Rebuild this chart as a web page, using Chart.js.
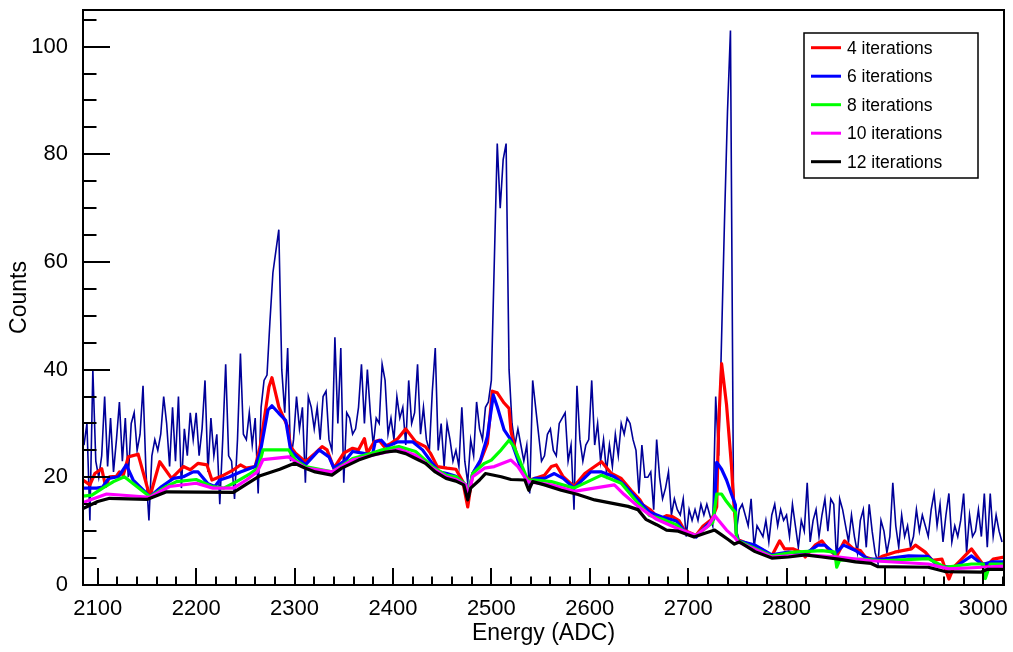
<!DOCTYPE html>
<html><head><meta charset="utf-8">
<script src="https://cdn.jsdelivr.net/npm/chart.js@4/dist/chart.umd.min.js"></script>
<style>html,body{margin:0;padding:0;background:#fff}canvas{display:block}</style>
</head><body>
<canvas id="c" width="1013" height="652"></canvas>
<script>
// ---- data ----
const binStart = 2086, binWidth = 3; // histogram bin centres (ADC)
const spectrumCounts = [
 26,30,12,40,23,20,24,35,22,31,
 21,27,34,23,31,20,30,32,25,28,
 37,21,12,24,27,25,28,35,30,22,
 33,23,35,18,29,24,32,27,32,24,
 29,38,21,31,24,28,15,27,41,24,
 23,16,27,43,28,27,32,26,31,17,
 33,38,39,49,58,62,66,40,32,44,
 23,27,35,29,33,19,35,33,29,33,
 27,35,36,27,25,46,30,44,19,32,
 31,28,29,33,41,30,40,32,26,31,
 30,41,38,28,31,27,35,31,33,26,
 38,30,32,41,28,33,27,25,36,44,
 25,30,22,30,27,23,25,22,33,23,
 19,27,24,34,29,27,33,34,38,60,
 82,70,79,82,40,30,26,29,26,23,
 26,17,38,33,28,23,24,28,29,25,
 24,30,31,32,23,26,14,37,27,23,
 26,27,38,26,30,23,27,21,26,22,
 28,24,30,28,31,30,27,25,17,26,
 20,20,21,14,27,20,16,18,21,13,
 16,14,13,16,9,14,12,14,12,15,
 13,15,13,11,35,24,46,68,88,103,
 18,10,14,15,13,11,16,7,11,10,
 9,12,8,13,15,11,14,12,13,9,
 15,11,7,12,10,19,8,12,14,9,
 13,16,10,16,15,4,16,14,11,8,
 13,9,6,12,14,7,15,10,6,4,
 12,10,6,9,19,11,7,13,9,11,
 7,9,14,10,13,11,9,14,17,11,
 15,8,13,17,8,11,9,12,17,6,
 13,9,10,14,9,17,7,17,9,13,
 10,8
];
const iter4 = [[2085,19.5],[2092,18.6],[2097,20.7],[2104,21.6],[2108,18.3],[2112,20.1],[2119,20.2],[2122,21],[2126,20.4],[2131,23.8],[2141,24.3],[2153,16.4],[2163,22.9],[2175,19.8],[2187,22],[2194,21.4],[2202,22.6],[2211,22.3],[2216,19.5],[2228,20.4],[2238,21.4],[2245,22.3],[2251,21.7],[2260,22],[2265,25.7],[2274,36.8],[2277,38.5],[2284,33.1],[2293,29.4],[2296,25.7],[2301,24.5],[2311,22.9],[2321,24.5],[2328,25.7],[2333,25.1],[2340,21.7],[2350,24.5],[2359,25.4],[2365,25.1],[2371,27.2],[2374,24.5],[2381,26.6],[2386,26.9],[2391,25.7],[2398,26.3],[2405,27.2],[2413,29],[2423,26.6],[2433,25.7],[2438,24.5],[2445,22],[2455,21.7],[2464,21.5],[2471,19.2],[2476,14.5],[2481,20.7],[2488,22.6],[2496,26.3],[2501,36],[2506,35.7],[2513,33.8],[2518,32.8],[2520,28.5],[2525,24.7],[2532,20.7],[2539,19.5],[2544,19.8],[2554,20.4],[2561,22],[2566,22.3],[2573,20.1],[2584,18.3],[2595,20.7],[2605,22],[2612,22.9],[2622,20.7],[2632,19.8],[2642,17.6],[2651,15.8],[2654,14.9],[2662,13.9],[2671,12.2],[2678,12.9],[2684,12.7],[2691,11.9],[2696,10.2],[2708,9.2],[2715,10.9],[2724,12.2],[2729,14.5],[2731,30],[2734,41.1],[2736,38.1],[2739,33.5],[2744,22.2],[2746,16.2],[2749,9.6],[2751,8.4],[2761,7.6],[2774,6.7],[2785,5.4],[2793,8.2],[2798,6.7],[2807,6.7],[2815,6.1],[2819,5.2],[2829,7.4],[2836,8.2],[2842,6.7],[2851,5.4],[2859,8.2],[2868,6.7],[2875,6.4],[2880,5.2],[2890,4.6],[2898,5.4],[2910,6.1],[2927,6.7],[2931,7.4],[2941,6.1],[2948,4.6],[2958,4.8],[2965,1.1],[2970,3.3],[2978,4.8],[2988,6.7],[2999,4.0],[3004,3.7],[3010,4.8],[3021,5.2]];
const iter6 = [[2085,18],[2099,18],[2105,18.2],[2111,19.8],[2121,20.1],[2129,22.3],[2136,19.5],[2153,16.4],[2165,18.3],[2177,19.8],[2187,20.1],[2197,21],[2202,21],[2212,18.8],[2219,18.3],[2224,19.5],[2234,20.1],[2245,21],[2260,22],[2265,24.5],[2273,32.5],[2277,33.3],[2284,31.9],[2291,30.6],[2296,25.1],[2301,24.1],[2311,22.3],[2325,25.1],[2335,23.8],[2340,21.7],[2352,23.2],[2359,24.8],[2369,24.5],[2379,24.1],[2382,26.6],[2388,26.9],[2394,25.7],[2405,26.6],[2420,26.6],[2430,25.1],[2440,22.6],[2447,21],[2455,20.7],[2464,20.2],[2472,18.9],[2476,16.1],[2481,20.7],[2489,23.2],[2496,27.6],[2502,35.3],[2506,33.1],[2513,28.8],[2520,26.9],[2527,23.2],[2534,20.1],[2539,19.2],[2544,19.8],[2554,19.8],[2564,20.7],[2573,19.8],[2584,18],[2601,21],[2612,21],[2625,20.1],[2635,18.6],[2649,15.8],[2661,13.5],[2674,12.6],[2688,11.9],[2698,9.6],[2708,8.9],[2718,10.9],[2726,12.2],[2729,22.8],[2734,21.5],[2739,19.5],[2744,16.9],[2748,14.9],[2749,9.6],[2751,8.2],[2768,7.4],[2785,5.6],[2802,6.1],[2819,5.8],[2832,7.4],[2839,7.4],[2849,5.8],[2858,7.4],[2870,6.4],[2883,4.8],[2897,4.8],[2910,5.1],[2924,5.4],[2944,5.3],[2954,3.5],[2971,3.3],[2988,5.4],[2999,3.8],[3009,4.3],[3021,4.3]];
const iter8 = [[2085,16.5],[2094,16.7],[2105,18],[2116,19.2],[2127,20.1],[2153,16.4],[2170,18.3],[2180,19.2],[2200,19.6],[2216,18.3],[2228,18],[2241,19.2],[2255,20.7],[2263,21.7],[2268,25.1],[2294,25.1],[2301,23.2],[2311,22],[2338,21],[2359,23.5],[2379,24.5],[2389,25.1],[2406,25.7],[2423,24.8],[2440,22],[2454,20.4],[2464,20.1],[2474,18.6],[2476,16.4],[2481,20.7],[2493,22.6],[2500,23.2],[2510,25.1],[2518,26.9],[2523,25.7],[2537,19.5],[2544,19.5],[2561,19.2],[2584,18],[2612,20.4],[2632,18.9],[2649,15.2],[2661,12.9],[2674,12.2],[2688,11.2],[2698,9.6],[2708,9.2],[2725,11.6],[2729,16.9],[2734,16.9],[2739,15.5],[2746,13.9],[2748,13.5],[2749,8.9],[2751,8.2],[2785,5.4],[2808,6.1],[2836,6.4],[2849,6.1],[2851,3.3],[2854,4.6],[2876,4.8],[2897,4.5],[2944,4.9],[2961,3.3],[2988,3.9],[3000,3.9],[3002,1.2],[3007,3.9],[3021,3.9]];
const iter10 = [[2085,15.3],[2092,15.8],[2109,16.9],[2153,16.3],[2173,18.3],[2200,18.9],[2217,18],[2238,18],[2251,19.5],[2262,21],[2268,23.3],[2294,23.8],[2301,22.9],[2311,21.7],[2338,21],[2359,23.2],[2379,24.1],[2406,25.2],[2423,24.1],[2440,21.7],[2454,20.1],[2464,19.6],[2474,18.6],[2476,16.1],[2481,20.1],[2493,21.7],[2503,22],[2520,23.2],[2527,22],[2537,19.2],[2561,18.6],[2584,17.4],[2625,18.6],[2635,16.8],[2649,14.6],[2668,12.2],[2688,10.6],[2708,9.2],[2720,10.9],[2727,12.9],[2730,12.2],[2739,10.2],[2747,8.9],[2751,8],[2785,5.2],[2819,5.6],[2853,5.2],[2886,4.5],[2944,3.9],[2965,3.0],[2999,3.3],[3021,3.5]];
const iter12 = [[2085,14.2],[2100,15.5],[2112,16.1],[2150,15.9],[2170,17.3],[2238,17.2],[2250,18.6],[2265,20.3],[2285,21.5],[2300,22.6],[2311,21.7],[2321,21.0],[2338,20.4],[2348,21.7],[2365,23.2],[2379,24.1],[2393,24.7],[2403,24.9],[2413,24.4],[2423,23.5],[2433,22.6],[2443,21.0],[2454,19.8],[2464,19.3],[2472,18.6],[2476,15.8],[2479,18.0],[2488,19.5],[2494,20.7],[2510,20.1],[2520,19.6],[2534,19.5],[2538,17.6],[2542,19.2],[2554,18.6],[2571,17.6],[2588,16.8],[2605,15.8],[2622,15.2],[2639,14.6],[2649,14.0],[2657,12.2],[2668,11.2],[2678,10.2],[2690,10.0],[2706,8.9],[2717,9.6],[2727,10.2],[2734,9.3],[2741,8.4],[2747,7.6],[2752,8.0],[2768,6.2],[2785,5.0],[2802,5.2],[2819,5.6],[2836,5.2],[2853,4.8],[2870,4.3],[2886,4.0],[2893,3.4],[2944,3.3],[2961,2.5],[2998,2.4],[3004,2.9],[3021,2.9]];
const seriesLabels = ['4 iterations','6 iterations','8 iterations','10 iterations','12 iterations'];
const seriesColors = ['#ff0000','#0000ff','#00ff00','#ff00ff','#000000'];
const xTickLabels = [2100,2200,2300,2400,2500,2600,2700,2800,2900,3000];
const yTickLabels = [0,20,40,60,80,100];
const xRange = [2085, 3021];
const yRange = [0, 106.8];

// ---- build ----
const toPts = arr => arr.map(p => ({x: p[0], y: p[1]}));
const spectrum = spectrumCounts.map((c, i) => ({x: binStart + i * binWidth, y: c}));
const curves = [iter4, iter6, iter8, iter10, iter12];
const datasets = [{
  label: 'spectrum', data: spectrum, borderColor: '#000099', borderWidth: 1.6,
  pointRadius: 0, tension: 0, order: 10, fill: false
}];
curves.forEach((c, i) => datasets.push({
  label: seriesLabels[i], data: toPts(c), borderColor: seriesColors[i], borderWidth: 3.2,
  pointRadius: 0, tension: 0, order: 9 - i, fill: false, borderJoinStyle: 'round'
}));

const FONT = '"Liberation Sans", Arial, Helvetica, sans-serif';

const rootDecor = {
  id: 'rootDecor',
  afterDatasetsDraw(chart) {
    const {ctx, chartArea: a} = chart;
    const xs = chart.scales.x, ys = chart.scales.y;
    ctx.save();
    ctx.strokeStyle = '#000';
    ctx.lineWidth = 2;
    ctx.beginPath();
    // x ticks (inward)
    for (let v = 2100; v <= xRange[1]; v += 20) {
      const px = Math.round(xs.getPixelForValue(v));
      const len = (v % 100 === 0) ? 17 : 8.5;
      ctx.moveTo(px, a.bottom); ctx.lineTo(px, a.bottom - len);
    }
    // y ticks (inward)
    for (let v = 0; v <= yRange[1]; v += 5) {
      const py = Math.round(ys.getPixelForValue(v));
      const len = (v % 20 === 0) ? 27 : 13.5;
      ctx.moveTo(a.left, py); ctx.lineTo(a.left + len, py);
    }
    ctx.stroke();
    ctx.strokeRect(a.left, a.top, a.right - a.left, a.bottom - a.top);

    // legend box
    const bx = 804, by = 33, bw = 174, bh = 145;
    ctx.fillStyle = '#fff';
    ctx.fillRect(bx, by, bw, bh);
    ctx.lineWidth = 1.5;
    ctx.strokeRect(bx, by, bw, bh);
    ctx.font = '17.5px ' + FONT;
    ctx.textBaseline = 'middle';
    ctx.textAlign = 'left';
    seriesLabels.forEach((lab, i) => {
      const y = 47.7 + i * 28.5;
      ctx.strokeStyle = seriesColors[i];
      ctx.lineWidth = 3;
      ctx.beginPath(); ctx.moveTo(811, y); ctx.lineTo(841, y); ctx.stroke();
      ctx.fillStyle = '#000';
      ctx.fillText(lab, 847, y + 1);
    });
    ctx.restore();
  }
};

new Chart(document.getElementById('c'), {
  type: 'line',
  data: {datasets},
  options: {
    responsive: false, animation: false, devicePixelRatio: 1,
    layout: {padding: {top: 10, right: 9, left: 0, bottom: 0}},
    plugins: {legend: {display: false}, tooltip: {enabled: false}},
    scales: {
      x: {
        type: 'linear', min: xRange[0], max: xRange[1],
        grid: {display: false}, border: {display: false},
        afterBuildTicks: s => { s.ticks = xTickLabels.map(v => ({value: v})); },
        afterFit: s => { s.height = 67; s.paddingLeft = 0; s.paddingRight = 0; },
        ticks: {autoSkip: false, maxRotation: 0, padding: 3, color: '#000',
          font: {family: FONT, size: 22}, callback: v => String(v)},
        title: {display: true, text: 'Energy (ADC)', color: '#000',
          font: {family: FONT, size: 23}, padding: {top: 0, bottom: 5}}
      },
      y: {
        type: 'linear', min: yRange[0], max: yRange[1],
        grid: {display: false}, border: {display: false},
        afterBuildTicks: s => { s.ticks = yTickLabels.map(v => ({value: v})); },
        afterFit: s => { s.width = 83; s.paddingTop = 0; s.paddingBottom = 0; },
        ticks: {autoSkip: false, padding: 7, color: '#000',
          font: {family: FONT, size: 22}, callback: v => String(v)},
        title: {display: true, text: 'Counts', color: '#000',
          font: {family: FONT, size: 23}, padding: {top: 6, bottom: 0}}
      }
    }
  },
  plugins: [rootDecor]
});
</script>
</body></html>
